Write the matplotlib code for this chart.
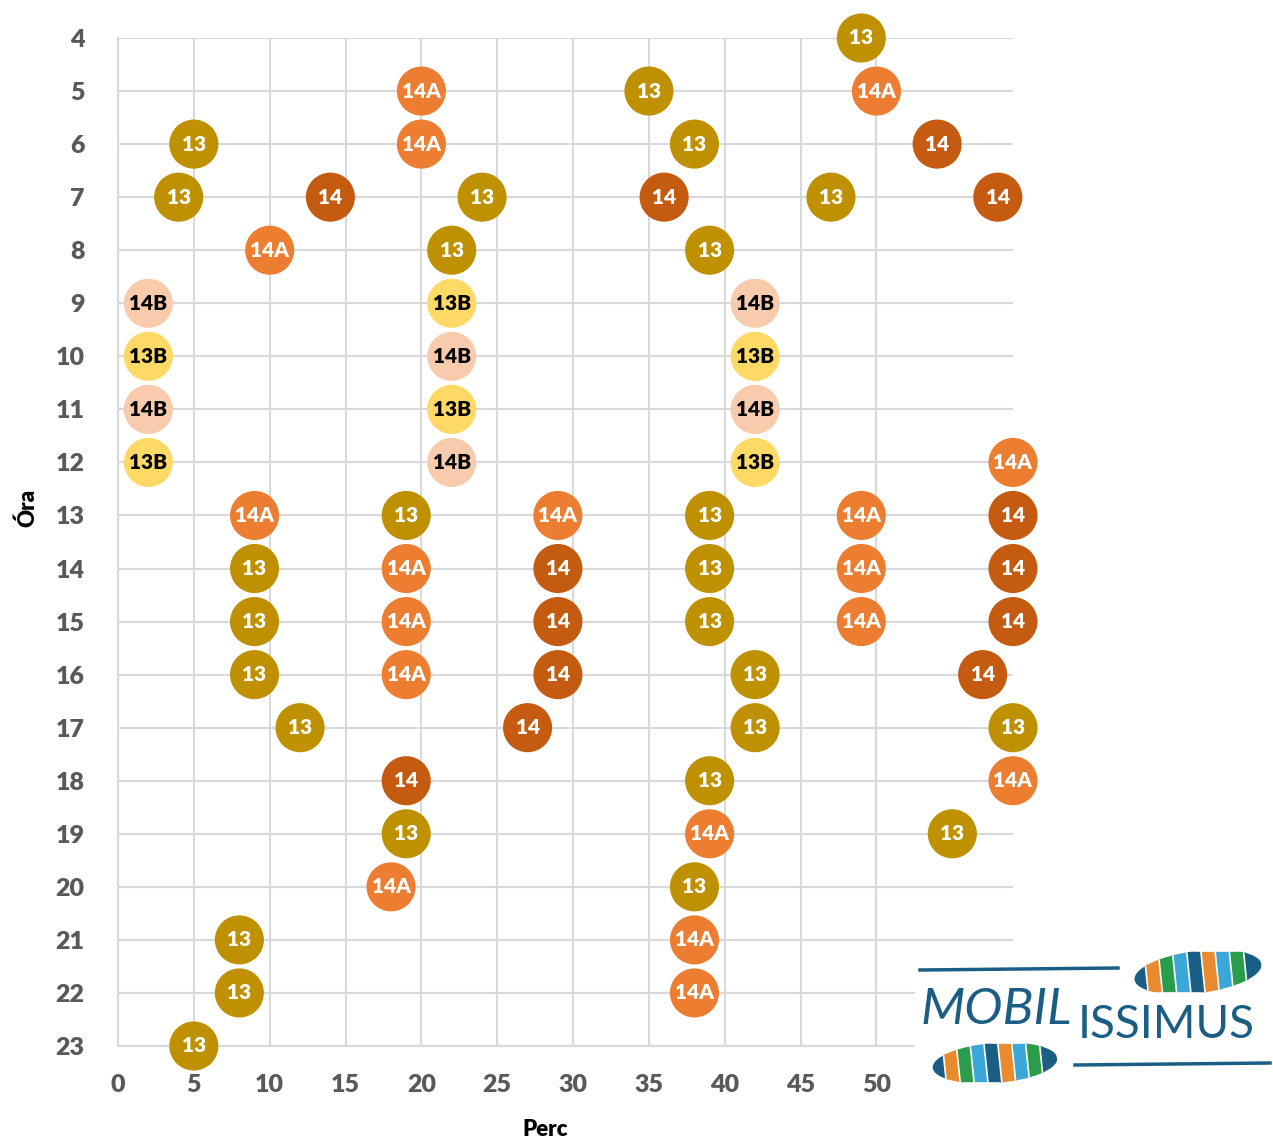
import matplotlib
matplotlib.use("Agg")
import matplotlib.pyplot as plt
from matplotlib.patches import Ellipse, Rectangle, Polygon

# menetrend: (perc, ora, jarat)
perc = [49,
        20, 35, 50,
        5, 20, 38, 54,
        4, 14, 24, 36, 47, 58,
        10, 22, 39,
        2, 22, 42,
        2, 22, 42,
        2, 22, 42,
        2, 22, 42, 59,
        9, 19, 29, 39, 49, 59,
        9, 19, 29, 39, 49, 59,
        9, 19, 29, 39, 49, 59,
        9, 19, 29, 42, 57,
        12, 27, 42, 59,
        19, 39, 59,
        19, 39, 55,
        18, 38,
        8, 38,
        8, 38,
        5]
ora = [4,
       5, 5, 5,
       6, 6, 6, 6,
       7, 7, 7, 7, 7, 7,
       8, 8, 8,
       9, 9, 9,
       10, 10, 10,
       11, 11, 11,
       12, 12, 12, 12,
       13, 13, 13, 13, 13, 13,
       14, 14, 14, 14, 14, 14,
       15, 15, 15, 15, 15, 15,
       16, 16, 16, 16, 16,
       17, 17, 17, 17,
       18, 18, 18,
       19, 19, 19,
       20, 20,
       21, 21,
       22, 22,
       23]
jarat = ["13",
         "14A", "13", "14A",
         "13", "14A", "13", "14",
         "13", "14", "13", "14", "13", "14",
         "14A", "13", "13",
         "14B", "13B", "14B",
         "13B", "14B", "13B",
         "14B", "13B", "14B",
         "13B", "14B", "13B", "14A",
         "14A", "13", "14A", "13", "14A", "14",
         "13", "14A", "14", "13", "14A", "14",
         "13", "14A", "14", "13", "14A", "14",
         "13", "14A", "14", "13", "14",
         "13", "14", "13", "13",
         "14", "13", "14A",
         "13", "14A", "13",
         "14A", "13",
         "13", "14A",
         "13", "14A",
         "13"]

szinek = {"13": "#BF9000", "14": "#C55A11", "14A": "#ED7D31",
          "14B": "#F8CBAD", "13B": "#FFD966"}
felirat_szin = {"13": "white", "14": "white", "14A": "white",
                "14B": "black", "13B": "black"}

plt.rcParams['font.family'] = ['Lato', 'DejaVu Sans']

W, H = 1273, 1144
fig = plt.figure(figsize=(W/100, H/100), dpi=100)
ax = fig.add_axes([118/W, 1-1046/H, (1013-118)/W, (1046-38)/H])

ax.scatter(perc, ora, s=1250, c=[szinek[j] for j in jarat], zorder=3,
           linewidths=0, clip_on=False)
for x, y, j in zip(perc, ora, jarat):
    ax.text(x, y, j, ha='center', va='center', fontsize=15, fontweight='heavy',
            color=felirat_szin[j], zorder=4)

ax.set_xlim(0, 59)
ax.set_ylim(23, 4)
ax.set_xticks(range(0, 55, 5))
ax.set_yticks(range(4, 24))
ax.grid(True, color='#D9D9D9', linewidth=1.5, zorder=0)
for s in ['top', 'right']:
    ax.spines[s].set_visible(False)
for s in ['left', 'bottom']:
    ax.spines[s].set_color('#D9D9D9')
    ax.spines[s].set_linewidth(1.5)
ax.tick_params(axis='x', length=0, pad=20, labelsize=18, labelcolor='#595959')
ax.tick_params(axis='y', length=0, pad=24, labelsize=18, labelcolor='#595959')
for lab in ax.get_xticklabels() + ax.get_yticklabels():
    lab.set_fontweight('heavy')
ax.set_xlabel('Perc', fontsize=16, fontweight='heavy')
ax.set_ylabel('Óra', fontsize=16, fontweight='heavy')
ax.xaxis.set_label_coords((545-118)/895, -(1119-1046)/1008)
ax.yaxis.set_label_coords(-(118-38)/895, 1-(508-38)/1008)

# logo
def fx(px):
    return px/W

def fy(py):
    return 1-py/H

fig.patches.append(Rectangle((fx(915), fy(1092)), fx(358), 148/H,
                             transform=fig.transFigure, color='white', zorder=5))
kek = '#1B5E85'
fig.text(fx(920), fy(1010), 'MOBIL', fontsize=37, color=kek,
         style='italic', va='center', ha='left', zorder=6)
fig.text(fx(1078), fy(1025), 'ISSIMUS', fontsize=33, color=kek,
         va='center', ha='left', zorder=6)
fig.add_artist(plt.Line2D([fx(920), fx(1118)], [fy(970), fy(968)],
                          color=kek, lw=2.5, zorder=6))
fig.add_artist(plt.Line2D([fx(1075), fx(1270)], [fy(1065), fy(1063)],
                          color=kek, lw=2.5, zorder=6))

# mozaik talpnyomok
mozaik = ['#1B5E85', '#E98A2E', '#2A9D4B', '#3BA7D8', '#1B5E85', '#E98A2E',
          '#3BA7D8', '#2A9D4B', '#1B5E85']
for cx, cy, w, h, ang in [(1198, 972, 128, 42, 8), (995, 1063, 125, 40, 5)]:
    el = Ellipse((fx(cx), fy(cy)), w/W, h/H, angle=ang,
                 transform=fig.transFigure, facecolor='none', edgecolor='none')
    fig.add_artist(el)
    n = len(mozaik)
    for i, c in enumerate(mozaik):
        x0 = cx - w/2 + i*w/n
        p = Polygon([(fx(x0), fy(cy+h/2)), (fx(x0 + w/n*1.2), fy(cy+h/2)),
                     (fx(x0 + w/n*0.9), fy(cy-h/2)), (fx(x0 - w/n*0.3), fy(cy-h/2))],
                    closed=True, transform=fig.transFigure, facecolor=c,
                    edgecolor='white', lw=1.2, zorder=6)
        p.set_clip_path(el)
        fig.add_artist(p)

fig.savefig('out.png', dpi=100)
